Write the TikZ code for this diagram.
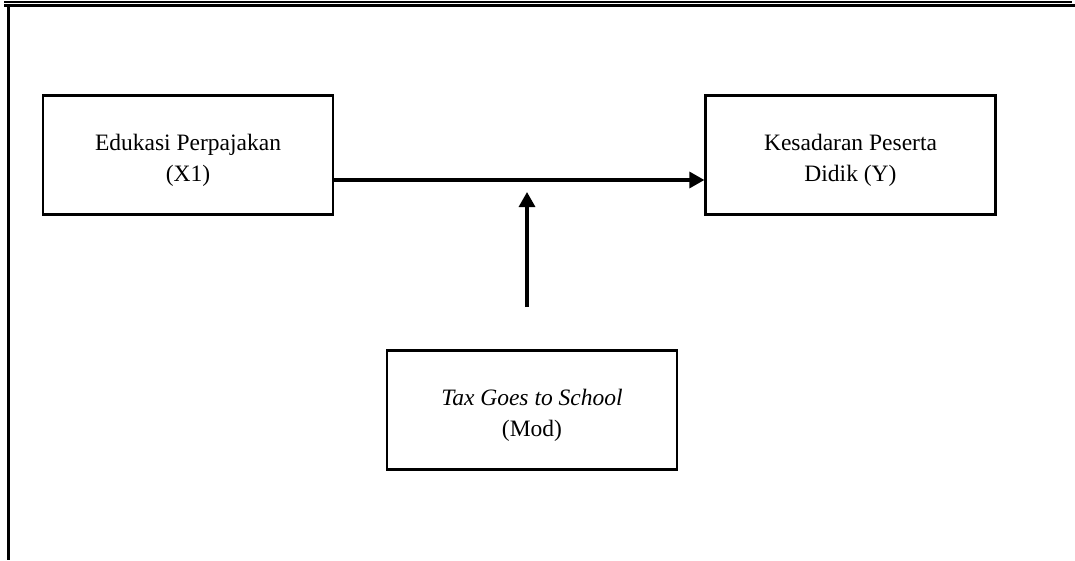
\documentclass[tikz,border=0pt]{standalone}
\usepackage{fontspec}
\setmainfont{Liberation Serif}
\usetikzlibrary{arrows.meta,positioning,calc}
\newcommand{\topstrut}{\rule{0pt}{26pt}}

\begin{document}
\begin{tikzpicture}[x=1pt, y=-1pt,
    box/.style={draw, line width=2.2pt, minimum width=290pt, minimum height=119pt, align=center, font=\fontsize{23.5}{31}\selectfont},
    arr/.style={line width=3.2pt, -{Triangle[length=15pt,width=16pt]}}]
    \useasboundingbox (0,0) rectangle (1075,560);

    % Page frame
    \draw[line width=1.4pt] (4,2) -- (1072,2);
    \draw[line width=3pt] (4,5.8) -- (1075,5.8);
    \draw[line width=2.7pt] (8.6,5.8) -- (8.6,560);

    % Variables
    \node[box] (edukasi) at (188,155) {\topstrut Edukasi Perpajakan\\(X1)};
    \node[box] (kesadaran) at (850.5,155) {\topstrut Kesadaran Peserta\\Didik (Y)};
    \node[box] (mod) at (532,410) {\topstrut\textit{Tax Goes to School}\\(Mod)};

    % Direct effect
    \draw[arr] ([yshift=-25pt]edukasi.east) -- ([yshift=-25pt]kesadaran.west);

    % Moderation
    \coordinate (modtail) at (527,307);
    \coordinate (modhead) at (527,192);
    \draw[arr] (modtail) -- (modhead);
\end{tikzpicture}
\end{document}
